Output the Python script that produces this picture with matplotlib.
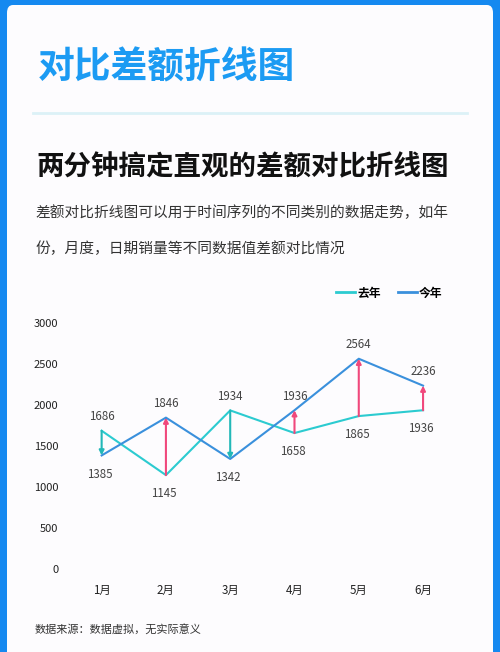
import matplotlib
matplotlib.use("Agg")
import matplotlib.pyplot as plt
from matplotlib.patches import FancyBboxPatch
from matplotlib.lines import Line2D

plt.rcParams['font.family'] = ['Noto Sans CJK SC', 'DejaVu Sans']

months = ['1月', '2月', '3月', '4月', '5月', '6月']
last_year = [1686, 1145, 1934, 1658, 1865, 1936]
this_year = [1385, 1846, 1342, 1936, 2564, 2236]
y_ticks = [0, 500, 1000, 1500, 2000, 2500, 3000]

C_LAST = '#2ccbd0'
C_THIS = '#3a90dc'
C_UP = '#f0487c'
C_DOWN = '#22b8b8'

W, H = 500, 652
fig = plt.figure(figsize=(W / 100, H / 100), dpi=100, facecolor='#1589f0')

card = FancyBboxPatch((7 / W, -0.05), (486 / W), 1 - 5 / H + 0.05,
                      boxstyle="round,pad=0,rounding_size=0.012",
                      transform=fig.transFigure, facecolor='#fdfcfe',
                      edgecolor='none', zorder=0)
fig.add_artist(card)

fig.text(38 / W, 1 - 68 / H, '对比差额折线图', fontsize=26.5, fontweight='bold',
         color='#1c9bf3', va='center', ha='left')
fig.add_artist(Line2D([33 / W, 467 / W], [1 - 113 / H, 1 - 113 / H],
                      transform=fig.transFigure, color='#dcf1f7', lw=2))
fig.text(36 / W, 1 - 167 / H, '两分钟搞定直观的差额对比折线图', fontsize=19.8,
         fontweight='bold', color='#111111', va='center', ha='left')
fig.text(35 / W, 1 - 213 / H, '差额对比折线图可以用于时间序列的不同类别的数据走势，如年',
         fontsize=10.6, color='#333333', va='center', ha='left')
fig.text(35 / W, 1 - 249 / H, '份，月度，日期销量等不同数据值差额对比情况',
         fontsize=10.6, color='#333333', va='center', ha='left')
fig.text(35 / W, 1 - 629 / H, '数据来源：数据虚拟，无实际意义',
         fontsize=8, color='#333333', va='center', ha='left')

left = 69.5 / W
width = 385.7 / W
bottom = 1 - 569 / H
height = 246 / H
ax = fig.add_axes([left, bottom, width, height])
ax.set_facecolor('none')
x = list(range(len(months)))

l1, = ax.plot(x, last_year, color=C_LAST, lw=1.5, label='去年', zorder=3)
l2, = ax.plot(x, this_year, color=C_THIS, lw=1.5, label='今年', zorder=3)

for i in x:
    a, b = last_year[i], this_year[i]
    col = C_UP if b > a else C_DOWN
    ax.annotate('', xy=(i, b), xytext=(i, a),
                arrowprops=dict(arrowstyle='-|>', color=col, lw=1.5,
                                mutation_scale=7, shrinkA=0, shrinkB=0),
                zorder=4)
    hi, lo = max(a, b), min(a, b)
    ax.annotate(str(hi), xy=(i, hi), xytext=(0, 10), textcoords='offset points',
                ha='center', va='center', fontsize=8.3, color='#444444')
    ax.annotate(str(lo), xy=(i, lo), xytext=(-1.5, -13.5), textcoords='offset points',
                ha='center', va='center', fontsize=8.3, color='#444444')

ax.set_xlim(-0.5, 5.5)
ax.set_ylim(0, 3000)
ax.set_yticks(y_ticks)
ax.set_yticklabels([str(t) for t in y_ticks], fontsize=8, color='#222222')
ax.set_xticks(x)
ax.set_xticklabels(months, fontsize=8.3, color='#222222')
ax.tick_params(axis='both', length=0)
ax.tick_params(axis='y', pad=8)
ax.tick_params(axis='x', pad=11)
for s in ax.spines.values():
    s.set_visible(False)

leg = fig.legend(handles=[l1, l2], loc='center right',
                 bbox_to_anchor=(453 / W, 1 - 293 / H), ncol=2, frameon=False,
                 handlelength=1.6, handletextpad=0.2, columnspacing=1.4,
                 prop={'size': 8.5, 'weight': 'bold'})
for h in leg.get_lines():
    h.set_linewidth(2)

fig.savefig('out.png', dpi=100, facecolor=fig.get_facecolor())
